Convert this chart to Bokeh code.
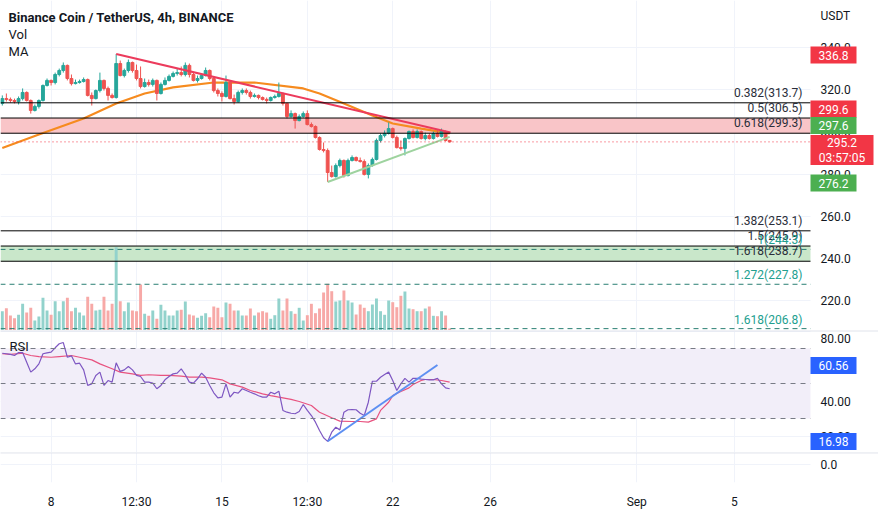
from bokeh.plotting import figure
from bokeh.models import Range1d, FixedTicker, Label, Span, BoxAnnotation
from bokeh.core.properties import value
from bokeh.layouts import column
from bokeh.embed import file_html
from bokeh.resources import INLINE

# ---------------- data (4h candles, Aug 6 -> Aug 24) ----------------
opens = [313.4, 315.7, 315.3, 314.8, 314.3, 315.7, 318.6, 314.8, 310.1, 312.0,
         314.8, 321.9, 324.3, 323.3, 327.1, 329.0, 331.4, 325.2, 322.8, 323.3,
         323.8, 324.7, 317.2, 315.7, 319.5, 324.3, 320.5, 317.2, 316.2, 332.3,
         326.6, 329.0, 332.8, 329.0, 325.2, 321.4, 323.3, 322.4, 324.3, 318.1,
         322.4, 324.3, 326.2, 327.6, 328.0, 327.1, 331.4, 327.1, 324.3, 325.2,
         326.6, 329.0, 325.2, 319.5, 318.1, 316.7, 323.3, 315.7, 314.3, 318.6,
         319.5, 318.6, 316.7, 317.2, 316.2, 315.3, 314.8, 316.2, 316.7, 318.1,
         313.4, 307.2, 308.6, 305.3, 307.2, 308.6, 303.4, 302.5, 297.3, 291.6,
         291.1, 280.7, 278.8, 284.0, 286.4, 279.3, 286.4, 287.8, 286.4, 285.9,
         279.8, 284.0, 286.9, 295.9, 298.2, 299.2, 301.5, 297.3, 292.5, 292.1,
         296.8, 300.1, 297.3, 300.1, 296.8, 298.2, 296.8, 299.2, 297.8, 300.1, 295.9]
closes = [315.7, 315.3, 314.8, 314.3, 315.7, 318.6, 314.8, 310.1, 312.0, 314.8,
          321.9, 324.3, 323.3, 327.1, 329.0, 331.4, 325.2, 322.8, 323.3, 323.8,
          324.7, 317.2, 315.7, 319.5, 324.3, 320.5, 317.2, 316.2, 332.3, 326.6,
          329.0, 332.8, 329.0, 325.2, 321.4, 323.3, 322.4, 324.3, 318.1, 322.4,
          324.3, 326.2, 327.6, 328.0, 327.1, 331.4, 327.1, 324.3, 325.2, 326.6,
          329.0, 325.2, 319.5, 318.1, 316.7, 323.3, 315.7, 314.3, 318.6, 319.5,
          318.6, 316.7, 317.2, 316.2, 315.3, 314.8, 316.2, 316.7, 318.1, 313.4,
          307.2, 308.6, 305.3, 307.2, 308.6, 303.4, 302.5, 297.3, 291.6, 291.1,
          280.7, 278.8, 284.0, 286.4, 279.3, 286.4, 287.8, 286.4, 285.9, 279.8,
          284.0, 286.9, 295.9, 298.2, 299.2, 301.5, 297.3, 292.5, 292.1, 296.8,
          300.1, 297.3, 300.1, 296.8, 298.2, 296.8, 299.2, 297.8, 300.1, 295.9, 295.2]
highs = [317.2, 318.1, 316.2, 315.7, 316.7, 320.5, 319.1, 315.3, 312.9, 315.3,
         322.4, 325.2, 324.7, 328.0, 329.9, 332.8, 331.8, 327.1, 324.7, 324.7,
         325.7, 325.2, 318.6, 320.0, 328.0, 324.7, 321.4, 318.1, 336.8, 333.7,
         329.9, 334.2, 333.2, 331.8, 330.9, 325.2, 324.7, 325.2, 324.7, 323.3,
         325.7, 327.1, 328.5, 329.9, 330.9, 332.8, 332.3, 328.0, 326.6, 327.6,
         330.4, 329.5, 325.7, 320.5, 319.1, 326.6, 324.3, 317.6, 319.5, 320.5,
         320.5, 319.5, 318.1, 317.6, 316.7, 316.2, 316.7, 317.6, 323.3, 318.6,
         313.8, 310.1, 309.1, 308.2, 309.6, 310.1, 304.4, 303.0, 297.8, 294.9,
         292.1, 284.0, 285.0, 287.3, 286.9, 287.3, 288.8, 288.3, 287.8, 286.9,
         285.0, 287.8, 296.8, 299.2, 300.6, 304.4, 302.0, 298.2, 295.9, 297.3,
         300.6, 301.1, 301.1, 300.6, 299.6, 299.2, 300.1, 300.6, 301.5, 300.6, 296.1]
lows = [312.4, 314.3, 313.8, 313.4, 312.9, 314.8, 314.3, 308.6, 309.6, 311.0,
        314.3, 321.4, 321.9, 322.4, 326.2, 328.0, 324.3, 321.9, 322.4, 322.8,
        323.3, 316.7, 312.4, 315.3, 318.6, 319.5, 314.8, 315.7, 315.7, 326.2,
        325.7, 328.0, 328.0, 324.3, 320.5, 320.9, 321.4, 321.4, 314.8, 317.6,
        321.9, 323.8, 325.7, 326.6, 326.2, 326.2, 325.7, 323.8, 323.3, 324.7,
        326.2, 324.3, 318.6, 316.7, 314.3, 316.2, 315.3, 312.9, 313.8, 317.6,
        317.6, 315.7, 316.2, 315.3, 314.8, 313.4, 314.3, 315.7, 316.2, 312.4,
        306.3, 306.7, 301.5, 304.9, 306.7, 303.0, 302.0, 296.8, 291.1, 290.2,
        276.2, 278.3, 278.3, 283.1, 278.3, 278.8, 285.9, 285.9, 285.4, 279.3,
        277.9, 283.5, 286.4, 294.9, 297.3, 298.7, 296.8, 292.1, 291.1, 288.8,
        296.3, 296.8, 296.8, 296.3, 295.9, 296.3, 296.3, 297.3, 297.3, 295.4, 294.9]
volumes = [19.3, 22.3, 15, 12.3, 15.7, 26.7, 18, 22.7, 10, 14,
           32.7, 20, 15.7, 29.3, 19.3, 29.3, 32.7, 19.3, 22.7, 18,
           15, 33.7, 26.7, 20, 20.7, 33.7, 20, 26.7, 83.3, 29.3,
           19.3, 28, 20, 19.3, 46, 16.7, 14.7, 20, 11.7, 25.7,
           20, 15, 15, 20, 20.7, 29, 16, 15, 12.7, 14.7,
           17.3, 13.3, 24, 22.7, 13.3, 28, 26.7, 20, 20, 15,
           15, 22, 15, 18, 19.3, 18, 11.7, 15.3, 32, 20,
           32, 19.3, 16.7, 22.7, 10, 15.3, 26.7, 17.3, 22, 38,
           46.7, 39.3, 29, 30, 40, 30, 28, 16, 26, 22.7,
           19.3, 26, 32, 19.3, 15.7, 30, 28.3, 23.3, 34.7, 39,
           22, 21.3, 19.3, 19.3, 22, 24, 14.7, 14.3, 19.3, 15, 2]
rsi = [67.3, 67.0, 66.6, 66.0, 67.7, 67.7, 62.2, 56.5, 58.4, 61.2,
       67.0, 67.5, 67.9, 70.4, 72.7, 73.4, 65.0, 65.8, 61.2, 61.6,
       57.8, 48.9, 49.8, 54.6, 56.5, 48.9, 51.7, 50.8, 61.8, 56.9,
       57.8, 59.7, 57.8, 54.6, 54.0, 50.8, 50.8, 50.2, 47.0, 48.9,
       52.1, 54.0, 55.5, 55.9, 58.4, 55.0, 50.8, 50.2, 52.7, 55.9,
       53.6, 48.9, 44.7, 41.8, 42.2, 49.8, 42.2, 45.0, 44.5, 47.0,
       46.0, 45.0, 44.1, 43.0, 42.2, 42.2, 45.0, 44.1, 45.6, 34.6,
       33.6, 33.0, 32.7, 34.0, 38.0, 34.6, 31.7, 27.9, 23.1, 19.0,
       16.9, 22.2, 25.0, 23.5, 33.6, 35.0, 35.1, 35.0, 33.0, 31.7,
       39.3, 51.3, 51.3, 53.6, 55.1, 56.5, 51.7, 46.0, 49.8, 52.9,
       50.8, 53.0, 52.9, 52.5, 52.3, 52.1, 52.1, 53.0, 49.8, 47.5, 47.0]

# moving average of price (read at selected candles)
ma_idx = [0, 9, 20, 28, 35, 42, 52, 62, 74, 78, 84, 91, 96, 103, 110]
ma_val = [292.3, 298.7, 306.3, 313.4, 318.1, 321.0, 323.3, 323.3, 320.5, 318.1, 313.4, 307.7, 303.9, 301.5, 299.2]
# RSI moving average
rsi_ma_idx = [0, 2, 5, 7, 9, 12, 14, 17, 19, 22, 24, 27, 29, 32, 34, 36, 39, 41, 44, 46, 49, 51, 54,
              56, 59, 61, 64, 66, 68, 71, 73, 76, 78, 81, 83, 86, 88, 90, 92, 93, 95, 96, 98, 100,
              101, 103, 104, 106, 108, 110]
rsi_ma_val = [67.0, 66.6, 67.3, 66.0, 65.4, 65.0, 65.4, 66.0, 65.0, 63.5, 61.2, 58.4, 56.5, 55.5,
              54.6, 55.0, 54.6, 54.6, 54.2, 53.6, 53.6, 53.2, 52.1, 49.8, 47.9, 46.0, 44.1, 43.1,
              42.2, 40.9, 39.7, 37.4, 33.6, 30.4, 28.5, 28.3, 28.3, 27.9, 29.8, 34.6, 39.3, 43.1,
              45.4, 47.5, 49.4, 51.7, 52.3, 52.3, 51.7, 50.8]

# drawn trendlines (candle index, value)
red_trend_x = [28, 110.2]
red_trend_y = [336.8, 299.6]
green_trend_x = [80, 110]
green_trend_y = [276.2, 297.6]
rsi_trend_x = [80, 107]
rsi_trend_y = [16.98, 60.56]

# Fibonacci levels
fib_black_levels = [313.7, 306.5, 299.3, 253.1, 245.9, 238.7]
fib_black_labels = ["0.382(313.7)", "0.5(306.5)", "0.618(299.3)", "1.382(253.1)", "1.5(245.9)", "1.618(238.7)"]
fib_teal_levels = [244.3, 227.8, 206.8]
fib_teal_labels = ["1(244.3)", "1.272(227.8)", "1.618(206.8)"]
last_price = 295.2
countdown = "03:57:05"

price_ticks = [220, 240, 260, 280, 300, 320, 340]
rsi_ticks = [20, 40, 60, 80]
x_ticks = [12, 33, 54, 75, 96, 120, 156, 180]
x_tick_labels = ["8", "12:30", "15", "12:30", "22", "26", "Sep", "5"]

# ---------------- styling / pixel geometry ----------------
FONT = "Roboto"
TXT = "#131722"
GRID = "#f0f3fa"
SEP = "#e0e3eb"
UP, DOWN = "#26a69a", "#ef5350"
VUP, VDOWN = "#92d2cc", "#f7a9a7"
RED, GREEN, BLUE = "#f23645", "#4caf50", "#2962ff"
PX_X = 4.067          # px per candle
PX_P = 2.1125         # px per price unit
PX_R = 1.75           # px per RSI unit


def gx(px):           # page x pixel -> candle index
    return (px - 1.8) / PX_X


def gp(py):           # page y pixel -> price
    return 320 + (89 - py) / PX_P


def gr(py):           # page y pixel -> RSI
    return 70 + (348 - py) / PX_R


X0, X1, XE = gx(0), gx(810), gx(878)
LABEL_X = gx(802)
TICK_X = gx(820)

n = len(closes)
idx = list(range(n))
colors = [UP if c >= o else DOWN for o, c in zip(opens, closes)]
vcolors = [VUP if c >= o else VDOWN for o, c in zip(opens, closes)]
body_bot = [min(o, c) for o, c in zip(opens, closes)]
body_top = [max(o, c) for o, c in zip(opens, closes)]

xr = Range1d(X0, XE)


def base_fig(h, yr, bottom=0, xaxis=None):
    f = figure(width=878, height=h, x_range=xr, y_range=yr, output_backend="svg",
               toolbar_location=None, y_axis_location=None, x_axis_location=xaxis,
               min_border_left=0, min_border_right=0, min_border_top=0, min_border_bottom=bottom)
    f.outline_line_color = None
    f.xgrid.ticker = FixedTicker(ticks=x_ticks)
    f.xgrid.grid_line_color = GRID
    f.ygrid.grid_line_color = GRID
    f.background_fill_color = "white"
    f.border_fill_color = "white"
    return f


def scale_area(f, ylo, yhi, ticks, fmt, px_unit):
    # white price-scale column on the right with its tick labels (kept fully inside the pane)
    f.quad(left=X1, right=XE, bottom=ylo, top=yhi, fill_color="white", line_color=None, level="overlay")
    ys = [min(t, yhi - 8 / px_unit) for t in ticks]
    f.text(x=[TICK_X] * len(ticks), y=ys, text=[fmt % t for t in ticks], text_font=value(FONT),
           text_font_size=value("12px"), text_color=TXT, text_align="left", text_baseline="middle",
           level="overlay")


def badge(f, yc, half_h, texts, color, right_px=856):
    f.quad(left=X1, right=gx(right_px), bottom=yc - half_h * len(texts), top=yc + half_h * len(texts),
           fill_color=color, line_color=None, level="overlay")
    k = len(texts)
    ys = [yc + half_h * (k - 1 - 2 * j) for j in range(k)]
    f.text(x=[gx((810 + right_px) / 2)] * k, y=ys, text=texts, text_font=value(FONT),
           text_font_size=value("12px"), text_color="white", text_align="center", text_baseline="middle",
           level="overlay")


# ---------------- price pane ----------------
PLO, PHI = gp(330), gp(0)
p1 = base_fig(330, Range1d(PLO, PHI))
p1.ygrid.ticker = FixedTicker(ticks=price_ticks)

p1.add_layout(BoxAnnotation(bottom=fib_black_levels[2], top=fib_black_levels[1], fill_color="#f9c5c8",
                            fill_alpha=1.0, line_color=None, level="underlay"))
p1.add_layout(BoxAnnotation(bottom=fib_black_levels[5], top=fib_black_levels[4], fill_color="#c9e7ca",
                            fill_alpha=1.0, line_color=None, level="underlay"))

p1.extra_y_ranges = {"vol": Range1d(0, 330)}
p1.vbar(x=idx, bottom=0, top=volumes, width=0.72, fill_color=vcolors, line_color=None, y_range_name="vol")

for lvl in fib_black_levels:
    p1.add_layout(Span(location=lvl, dimension="width", line_color="#000000", line_width=1))
for lvl in fib_teal_levels:
    p1.add_layout(Span(location=lvl, dimension="width", line_color="#2a7f73", line_width=1, line_dash="5 4"))
p1.add_layout(Span(location=last_price, dimension="width", line_color=RED, line_width=1, line_dash="1 3"))

p1.line(ma_idx, ma_val, line_color="#f68b1f", line_width=2.2)
p1.segment(x0=idx, y0=lows, x1=idx, y1=highs, line_color=colors, line_width=1)
p1.vbar(x=idx, bottom=body_bot, top=body_top, width=0.7, fill_color=colors, line_color=colors)
p1.line(red_trend_x, red_trend_y, line_color="#ec3b5c", line_width=2)
p1.line(green_trend_x, green_trend_y, line_color="#9ed39f", line_width=2)

for lvl, txt in zip(fib_black_levels, fib_black_labels):
    p1.add_layout(Label(x=LABEL_X, y=lvl + 10 / PX_P, text=txt, text_align="right", text_baseline="middle",
                        text_font=FONT, text_font_size="12px", text_color="#2a2e39"))
for lvl, txt in zip(fib_teal_levels, fib_teal_labels):
    p1.add_layout(Label(x=LABEL_X, y=lvl + 9 / PX_P, text=txt, text_align="right", text_baseline="middle",
                        text_font=FONT, text_font_size="12px", text_color="#22a08f"))

p1.add_layout(Label(x=gx(8), y=gp(17), text="Binance Coin / TetherUS, 4h, BINANCE",
                    text_font=FONT, text_font_size="13px", text_font_style="bold", text_color=TXT,
                    text_baseline="middle"))
p1.add_layout(Label(x=gx(8), y=gp(34), text="Vol", text_font=FONT,
                    text_font_size="13px", text_color=TXT, text_baseline="middle"))
p1.add_layout(Label(x=gx(8), y=gp(51), text="MA", text_font=FONT,
                    text_font_size="13px", text_color=TXT, text_baseline="middle"))

scale_area(p1, PLO, PHI, price_ticks, "%.1f", PX_P)
p1.text(x=[TICK_X], y=[gp(15)], text=["USDT"], text_font=value(FONT), text_font_size=value("12px"),
        text_color=TXT, text_align="left", text_baseline="middle", level="overlay")
HB = 8.5 / PX_P
badge(p1, gp(54.5), HB, ["%.1f" % red_trend_y[0]], RED)
badge(p1, gp(108.5), HB, ["%.1f" % red_trend_y[1]], RED)
badge(p1, gp(125), HB, ["%.1f" % green_trend_y[1]], GREEN)
badge(p1, gp(149.5), 7.5 / PX_P, ["%.1f" % last_price, countdown], RED, right_px=873)
badge(p1, gp(182.5), HB, ["%.1f" % green_trend_y[0]], GREEN)

# ---------------- RSI pane ----------------
RLO, RHI = gr(452), gr(330)
p2 = base_fig(122, Range1d(RLO, RHI))
p2.ygrid.ticker = FixedTicker(ticks=rsi_ticks)
p2.add_layout(BoxAnnotation(bottom=30, top=70, fill_color="#f2eef9", fill_alpha=1.0, line_color=None,
                            level="underlay"))
for lvl in [70, 50, 30]:
    p2.add_layout(Span(location=lvl, dimension="width", line_color="#787b86", line_width=1, line_dash="5 5"))
p2.line(rsi_ma_idx, rsi_ma_val, line_color="#e8527f", line_width=1.2)
p2.line(idx, rsi, line_color="#7e57c2", line_width=1.2)
p2.line(rsi_trend_x, rsi_trend_y, line_color="#5d8ff2", line_width=2)
p2.add_layout(Label(x=gx(9), y=gr(346), text="RSI", text_font=FONT, text_font_size="13px",
                    text_color=TXT, text_baseline="middle"))
scale_area(p2, RLO, RHI, rsi_ticks, "%.2f", PX_R)
badge(p2, gr(365), 8.5 / PX_R, ["%.2f" % rsi_trend_y[1]], BLUE)
badge(p2, gr(441), 8.5 / PX_R, ["%.2f" % rsi_trend_y[0]], BLUE)
p2.segment(x0=[X0], y0=[RHI - 0.5 / PX_R], x1=[XE], y1=[RHI - 0.5 / PX_R], line_color=SEP, line_width=1,
           level="overlay")

# ---------------- empty bottom pane + time axis ----------------
p3 = base_fig(59, Range1d(-20, 13), bottom=26, xaxis="below")
p3.ygrid.ticker = FixedTicker(ticks=[0])
scale_area(p3, -20, 13, [0], "%.1f", 1.0)
p3.segment(x0=[X0], y0=[12.5], x1=[XE], y1=[12.5], line_color=SEP, line_width=1, level="overlay")
p3.xaxis.ticker = FixedTicker(ticks=x_ticks)
p3.xaxis.major_label_overrides = {t: s for t, s in zip(x_ticks, x_tick_labels)}
p3.xaxis.major_tick_line_color = None
p3.xaxis.minor_tick_line_color = None
p3.xaxis.axis_line_color = None
p3.xaxis.major_label_standoff = 6
p3.xaxis.major_label_text_font = FONT
p3.xaxis.major_label_text_font_size = "12px"
p3.xaxis.major_label_text_color = TXT

layout = column(p1, p2, p3, spacing=0)
open("out.html", "w").write(file_html(layout, INLINE))
